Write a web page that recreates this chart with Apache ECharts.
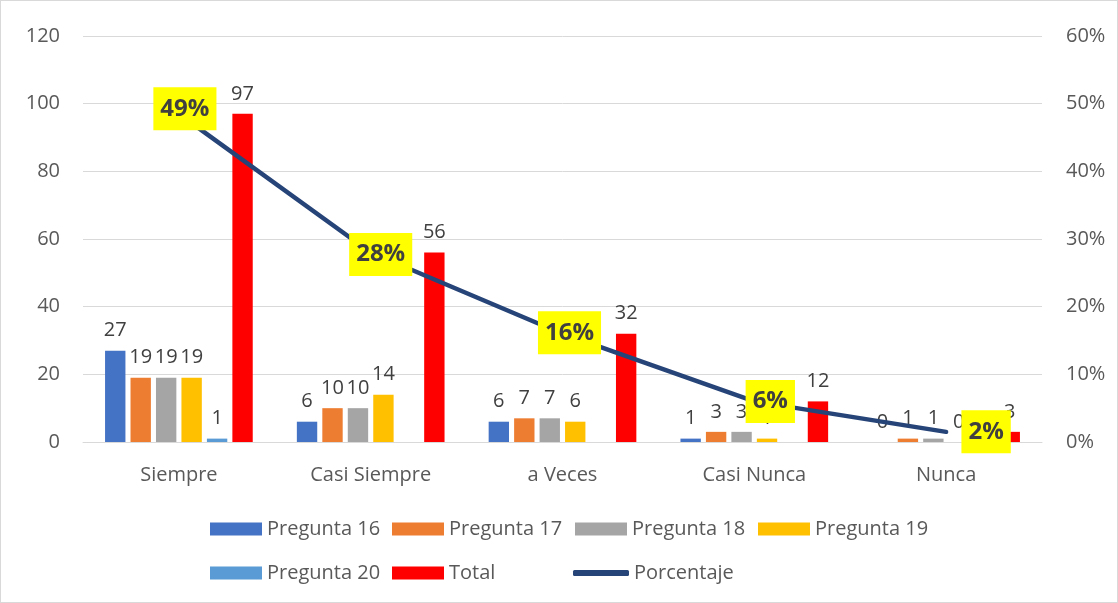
<!DOCTYPE html>
<html>
<head>
<meta charset="utf-8">
<script src="https://cdn.jsdelivr.net/npm/echarts@6/dist/echarts.min.js"></script>
<style>
  html, body { margin: 0; padding: 0; background: #fff; }
  #chart { width: 1116px; height: 601px; border: 1px solid #d9d9d9; }
</style>
</head>
<body>
<div id="chart"></div>
<script>
const categories = ['Siempre', 'Casi Siempre', 'a Veces', 'Casi Nunca', 'Nunca']
const pregunta16 = [27, 6, 6, 1, 0]
const pregunta17 = [19, 10, 7, 3, 1]
const pregunta18 = [19, 10, 7, 3, 1]
const pregunta19 = [19, 14, 6, 1, 0]
const pregunta20 = [1, '-', '-', '-', '-']
const total = [97, 56, 32, 12, 3]
const porcentaje = [0.485, 0.28, 0.16, 0.06, 0.015]
const leftTicks = [0, 120, 20]
const rightTicks = [0, 0.6, 0.1]

const font = "'Open Sans', sans-serif"
const labelColor = '#404040'
const axisColor = '#595959'
const fs = 20

const chart = echarts.init(document.getElementById('chart'))

// porcentaje label boxes sit a bit to the right of the points, like in Excel
const pctOffsets = [[6, -5], [10, 2], [7, -1], [16, 0], [40, 0]]

// legend laid out in Excel-like columns, one legend box per entry
const legendSlots = [
    ['Pregunta 16', 209, 0], ['Pregunta 17', 391, 0], ['Pregunta 18', 574, 0], ['Pregunta 19', 757, 0],
    ['Pregunta 20', 209, 1], ['Total', 391, 1], ['Porcentaje', 572, 1]
]

function barSeries(name, data, color) {
    return {
        name: name,
        type: 'bar',
        data: data,
        itemStyle: { color: color },
        barGap: '25%',
        barCategoryGap: '23%',
        label: {
            show: true,
            position: 'top',
            distance: 10,
            color: labelColor,
            fontSize: fs,
            fontFamily: font
        }
    }
}

const option = {
    animation: false,
    grid: { left: 82, right: 75, top: 35, bottom: 160 },
    legend: legendSlots.map(([name, x, row]) => {
        const isLine = name === 'Porcentaje'
        return {
            left: x,
            top: row ? 562 : 518,
            padding: 0,
            itemWidth: isLine ? 56 : 52,
            itemHeight: isLine ? 6 : 13,
            data: [{ name: name, icon: isLine ? 'roundRect' : 'rect' }],
            textStyle: { color: axisColor, fontSize: fs, fontFamily: font }
        }
    }),
    xAxis: {
        type: 'category',
        data: categories,
        axisTick: { show: false },
        axisLine: { lineStyle: { color: '#d9d9d9', width: 1 } },
        axisLabel: { color: axisColor, fontSize: fs, fontFamily: font, margin: 23 }
    },
    yAxis: [{
        type: 'value',
        min: leftTicks[0],
        max: leftTicks[1],
        interval: leftTicks[2],
        axisLine: { show: false },
        axisTick: { show: false },
        axisLabel: { color: axisColor, fontSize: fs, fontFamily: font, margin: 23 },
        splitLine: { lineStyle: { color: '#d9d9d9' } }
    }, {
        type: 'value',
        min: rightTicks[0],
        max: rightTicks[1],
        interval: rightTicks[2],
        axisLine: { show: false },
        axisTick: { show: false },
        axisLabel: {
            color: axisColor, fontSize: fs, fontFamily: font, margin: 24,
            formatter: v => Math.round(v * 100) + '%'
        },
        splitLine: { show: false }
    }],
    series: [
        barSeries('Pregunta 16', pregunta16, '#4472c4'),
        barSeries('Pregunta 17', pregunta17, '#ed7d31'),
        barSeries('Pregunta 18', pregunta18, '#a5a5a5'),
        barSeries('Pregunta 19', pregunta19, '#ffc000'),
        barSeries('Pregunta 20', pregunta20, '#5b9bd5'),
        barSeries('Total', total, '#ff0000'),
        {
            name: 'Porcentaje',
            type: 'line',
            yAxisIndex: 1,
            z: 5,
            data: porcentaje.map((v, i) => ({
                value: v,
                label: { offset: pctOffsets[i] }
            })),
            symbol: 'circle',
            symbolSize: 0,
            showSymbol: true,
            lineStyle: { color: '#264478', width: 4.5, cap: 'round' },
            itemStyle: { color: '#264478' },
            label: {
                show: true,
                position: 'inside',
                backgroundColor: '#ffff00',
                color: labelColor,
                fontWeight: 'bold',
                fontSize: 24,
                fontFamily: font,
                lineHeight: 28,
                padding: [8, 7, 7, 7],
                formatter: p => Math.round(p.value * 100) + '%'
            }
        }
    ]
}

chart.setOption(option)
</script>
</body>
</html>
